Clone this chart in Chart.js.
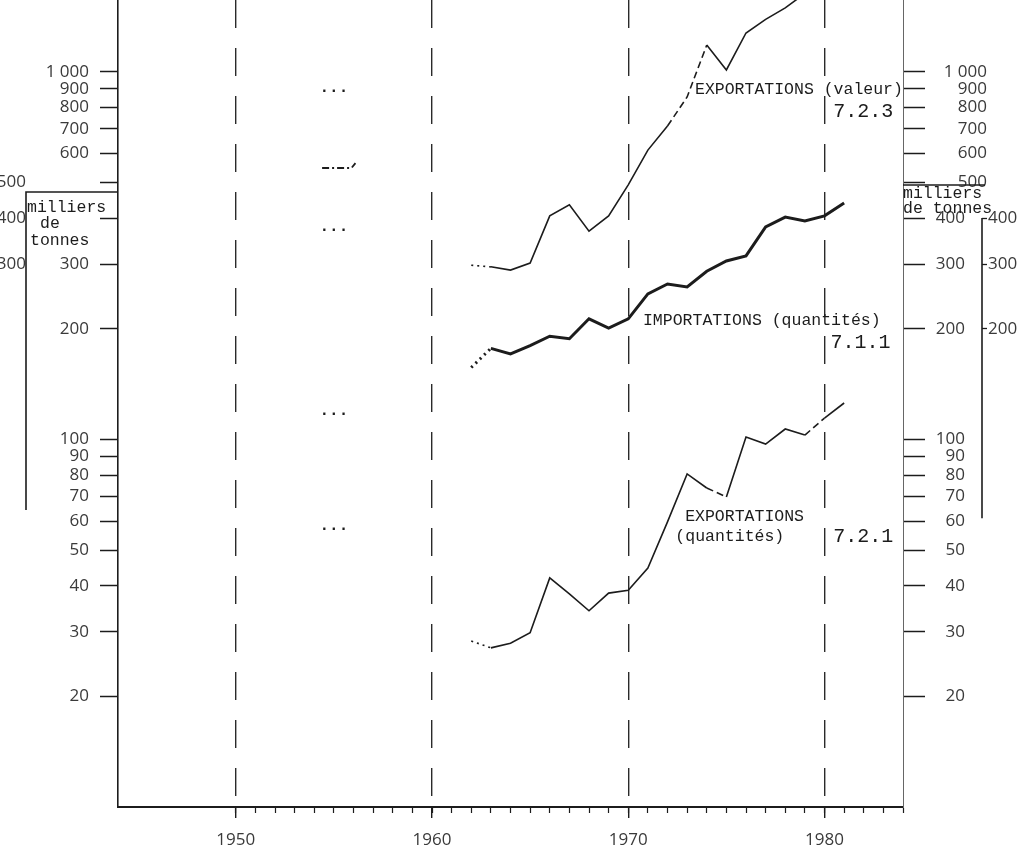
<!DOCTYPE html>
<html>
<head>
<meta charset="utf-8">
<script src="https://cdn.jsdelivr.net/npm/chart.js@4.4.1/dist/chart.umd.min.js"></script>
<style>
html,body{margin:0;padding:0;background:#fff;}
#wrap{width:1021px;height:848px;position:relative;}
</style>
</head>
<body>
<div id="wrap"><canvas id="c"></canvas></div>
<script>
// ---------- DATA ----------
const seriesYears = [1962,1963,1964,1965,1966,1967,1968,1969,1970,1971,1972,1973,1974,1975,1976,1977,1978,1979,1980,1981];
// EXPORTATIONS (valeur) 7.2.3  (1962-1979)
const exportsValue = [298,295,289,302,406,435,369,406,493,613,713,855,1184,1013,1277,1391,1494,1636];
// IMPORTATIONS (quantités) 7.1.1 (1962-1981)
const importsQty = [157,177,171,180,191,188,213,201,213,249,265,260,287,306,316,379,403,393,406,440];
// EXPORTATIONS (quantités) 7.2.1 (1962-1981)
const exportsQty = [28.3,27.1,27.9,29.8,42.0,38.0,34.2,38.2,38.9,44.7,59.7,80.6,73.8,69.8,101.6,97.2,106.8,102.8,114.4,125.7];

// broken-line segments (index of segment start)
const exportsValueDotted = [0];
const exportsValueDashed = [10,11];
const importsDotted = [0];
const exportsQtyDotted = [0];
const exportsQtyDashed = [12,17];

// "..." (not available) markers for 1955
const naYear = 1955;
const naValues = [893, 374, 118, 57.4];
// short dash-dot fragment around 1955
const fragYears = [1954.4, 1955.9, 1956.1];
const fragValues = [548, 548, 565];

// ticks
const xYearTicks = [1950,1951,1952,1953,1954,1955,1956,1957,1958,1959,1960,1961,1962,1963,1964,1965,1966,1967,1968,1969,1970,1971,1972,1973,1974,1975,1976,1977,1978,1979,1980,1981,1982,1983,1984];
const xDecadeTicks = [1950,1960,1970,1980];
const yTicks = [20,30,40,50,60,70,80,90,100,200,300,400,500,600,700,800,900,1000];
const leftHiddenLabels = [400,500];
const farLeftTicks = [300,400,500];
const rightUpperTicks = [500,600,700,800,900,1000];
const farRightTicks = [200,300,400];

const Y_MIN = 10, Y_MAX = 1570, X_MIN = 1944, X_MAX = 1984;

// ---------- helpers ----------
const toPts = (xs, vs) => vs.map((v, i) => ({x: xs[i], y: v}));
const fmt = v => v === 1000 ? '1 000' : String(v);
const setTicks = arr => (s) => { s.ticks = arr.map(v => ({value: v})); };
const fixW = w => (s) => { s.width = w; s.paddingTop = 0; s.paddingBottom = 0; };
const fixH = h => (s) => { s.height = h; s.paddingLeft = 0; s.paddingRight = 0; };
const segDash = (dotted, dashed) => ({
  borderDash: ctx => dotted.includes(ctx.p0DataIndex) ? [2,4] : (dashed.includes(ctx.p0DataIndex) ? [7,4] : undefined)
});

const TICK_FONT = {family: '"Open Sans", sans-serif', size: 17};
const TICK_COLOR = '#3a3a3a';
const INK = '#1c1c1c';

function logAxis(extra) {
  return Object.assign({
    type: 'logarithmic', min: Y_MIN, max: Y_MAX, bounds: 'data'
  }, extra);
}

// ---------- annotation plugin ----------
const annot = {
  id: 'annot',
  afterDatasetsDraw(chart) {
    const {ctx, scales} = chart;
    const X = scales.x, Y = scales.y;
    ctx.save();
    ctx.fillStyle = INK;
    // "..." markers
    ctx.font = 'bold 16px "Liberation Mono", monospace';
    ctx.textAlign = 'center';
    ctx.textBaseline = 'alphabetic';
    naValues.forEach(v => ctx.fillText('...', X.getPixelForValue(naYear), Y.getPixelForValue(v) + 2));

    // series captions
    const notes = [
      {t: 'EXPORTATIONS (valeur)', yr: 1973.4, v: 893, s: 16.5},
      {t: '7.2.3', yr: 1980.45, v: 778, s: 20},
      {t: 'IMPORTATIONS (quantités)', yr: 1970.75, v: 211, s: 16.5},
      {t: '7.1.1', yr: 1980.3, v: 183, s: 20},
      {t: 'EXPORTATIONS', yr: 1972.9, v: 61.5, s: 16.5},
      {t: '(quantités)', yr: 1972.4, v: 54.3, s: 16.5},
      {t: '7.2.1', yr: 1980.45, v: 54.3, s: 20}
    ];
    ctx.textAlign = 'left';
    ctx.textBaseline = 'middle';
    notes.forEach(n => {
      ctx.font = n.s + 'px "Liberation Mono", monospace';
      ctx.fillText(n.t, X.getPixelForValue(n.yr), Y.getPixelForValue(n.v));
    });

    // unit captions
    const fl = scales.yFL, r1 = scales.yR1, r3 = scales.yR3;
    ctx.font = '16.5px "Liberation Mono", monospace';
    ctx.fillText('milliers', fl.right + 1, Y.getPixelForValue(427));
    ctx.fillText('de', fl.right + 14, Y.getPixelForValue(386));
    ctx.fillText('tonnes', fl.right + 4, Y.getPixelForValue(347));
    ctx.fillText('milliers', r1.left, Y.getPixelForValue(466));
    ctx.fillText('de tonnes', r1.left, Y.getPixelForValue(424));

    // brackets
    ctx.strokeStyle = INK;
    ctx.lineWidth = 1.6;
    ctx.beginPath();
    ctx.moveTo(fl.right, Y.getPixelForValue(64.3));
    ctx.lineTo(fl.right, Y.getPixelForValue(471.6));
    ctx.lineTo(scales.y.right, Y.getPixelForValue(471.6));
    ctx.stroke();
    ctx.beginPath();
    ctx.moveTo(r1.left, Y.getPixelForValue(492.6));
    ctx.lineTo(r3.left + 3, Y.getPixelForValue(492.6));
    ctx.stroke();
    ctx.beginPath();
    ctx.moveTo(r3.left, Y.getPixelForValue(400.6));
    ctx.lineTo(r3.left, Y.getPixelForValue(61.1));
    ctx.stroke();
    ctx.restore();
  }
};

// ---------- chart ----------
new Chart(document.getElementById('c'), {
  type: 'line',
  data: {
    datasets: [
      {
        label: 'EXPORTATIONS (valeur)',
        data: toPts(seriesYears, exportsValue),
        borderColor: INK, borderWidth: 1.6, pointRadius: 0, tension: 0,
        segment: segDash(exportsValueDotted, exportsValueDashed)
      },
      {
        label: 'IMPORTATIONS (quantités)',
        data: toPts(seriesYears, importsQty),
        borderColor: INK, borderWidth: 3, pointRadius: 0, tension: 0,
        segment: segDash(importsDotted, [])
      },
      {
        label: 'EXPORTATIONS (quantités)',
        data: toPts(seriesYears, exportsQty),
        borderColor: INK, borderWidth: 1.6, pointRadius: 0, tension: 0,
        segment: segDash(exportsQtyDotted, exportsQtyDashed)
      },
      {
        label: 'fragment',
        data: toPts(fragYears, fragValues),
        borderColor: INK, borderWidth: 1.8, pointRadius: 0, tension: 0,
        borderDash: [7,3,2,3]
      }
    ]
  },
  options: {
    responsive: true,
    maintainAspectRatio: false,
    animation: false,
    events: [],
    layout: {padding: 0, autoPadding: false},
    plugins: {legend: {display: false}, tooltip: {enabled: false}},
    scales: {
      x: {
        type: 'linear', position: 'bottom', min: X_MIN, max: X_MAX, weight: 0,
        afterBuildTicks: setTicks(xYearTicks),
        afterFit: fixH(0),
        ticks: {display: false, autoSkip: false},
        grid: {drawOnChartArea: false, tickLength: 6, tickColor: INK, tickWidth: 1.2},
        border: {display: true, color: INK, width: 2}
      },
      x2: {
        type: 'linear', position: 'bottom', min: X_MIN, max: X_MAX, weight: 1,
        afterBuildTicks: setTicks(xDecadeTicks),
        afterFit: fixH(41),
        ticks: {autoSkip: false, maxRotation: 0, padding: 12, font: TICK_FONT, color: TICK_COLOR,
                callback: v => String(v)},
        grid: {drawOnChartArea: true, color: '#2a2a2a', lineWidth: 1.4, tickLength: 11,
               tickColor: INK, tickWidth: 1.4},
        border: {display: false, dash: [28, 20]}
      },
      y: logAxis({
        position: 'left', weight: 1,
        afterBuildTicks: setTicks(yTicks),
        afterFit: fixW(92),
        ticks: {autoSkip: false, padding: 11, font: TICK_FONT, color: TICK_COLOR,
                callback: v => leftHiddenLabels.includes(v) ? '' : fmt(v)},
        grid: {drawOnChartArea: false, tickLength: 18, tickColor: INK, tickWidth: 1.5},
        border: {display: true, color: INK, width: 1.6}
      }),
      yFL: logAxis({
        position: 'left', weight: 2,
        afterBuildTicks: setTicks(farLeftTicks),
        afterFit: fixW(26),
        ticks: {autoSkip: false, padding: 0, font: TICK_FONT, color: TICK_COLOR, callback: v => fmt(v)},
        grid: {display: false, drawTicks: false},
        border: {display: false}
      }),
      yR1: logAxis({
        position: 'right', weight: 1,
        afterBuildTicks: setTicks(yTicks),
        afterFit: fixW(62),
        ticks: {autoSkip: false, padding: 11, crossAlign: 'far', font: TICK_FONT, color: TICK_COLOR,
                callback: v => v <= 400 ? fmt(v) : ''},
        grid: {drawOnChartArea: false, tickLength: 22, tickColor: INK, tickWidth: 1.5},
        border: {display: true, color: '#666', width: 1}
      }),
      yR2: logAxis({
        position: 'right', weight: 2,
        afterBuildTicks: setTicks(rightUpperTicks),
        afterFit: fixW(17),
        ticks: {autoSkip: false, mirror: true, padding: 22, font: TICK_FONT, color: TICK_COLOR,
                callback: v => fmt(v)},
        grid: {display: false, drawTicks: false},
        border: {display: false}
      }),
      yR3: logAxis({
        position: 'right', weight: 3,
        afterBuildTicks: setTicks(farRightTicks),
        afterFit: fixW(39),
        ticks: {autoSkip: false, padding: 1, font: TICK_FONT, color: TICK_COLOR, callback: v => fmt(v)},
        grid: {drawOnChartArea: false, drawTicks: true, tickLength: 5, tickColor: INK, tickWidth: 1.3},
        border: {display: false}
      })
    }
  },
  plugins: [annot]
});
</script>
</body>
</html>
